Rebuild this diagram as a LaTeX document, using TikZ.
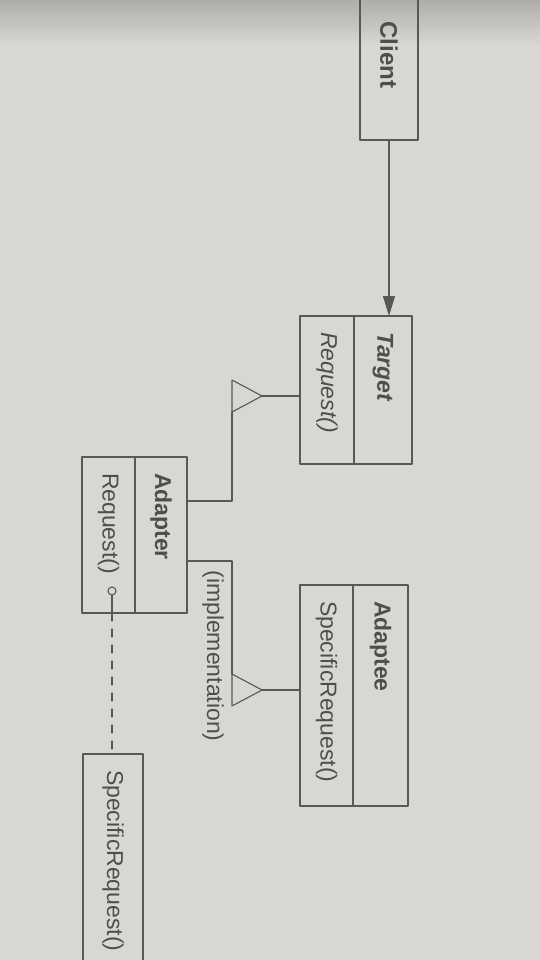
\documentclass[tikz,border=0pt]{standalone}
\usepackage{fontspec}
\setmainfont{Liberation Sans}
\usetikzlibrary{arrows.meta,calc}
\definecolor{paper}{RGB}{217,215,212}
\definecolor{shadow}{RGB}{175,173,170}
\definecolor{ink}{RGB}{88,88,88}
\definecolor{txt}{RGB}{78,78,78}
\begin{document}
\begin{tikzpicture}[x=1pt, y=1pt, line join=round, line cap=round,
	cls/.style={draw=ink, line width=1.1pt, rotate=-90, align=left, inner xsep=16pt, outer sep=0pt, text=txt, font=\fontsize{23}{27}\selectfont},
	line/.style={draw=ink, line width=1.1pt},
	gen/.style={draw=ink, line width=1.1pt, fill=paper}]
	\useasboundingbox (0,0) rectangle (540,-960);
	\fill[paper] (0,0) rectangle (540,-960);
	\shade[top color=shadow, bottom color=paper] (0,0) rectangle (540,-45);
	\node[cls, align=center, text width=138pt, minimum height=58pt, font=\fontsize{24}{28}\selectfont\bfseries] (client) at (389,-55) {Client};
	\node[cls, text width=116pt, minimum height=58pt, font=\fontsize{23}{27}\selectfont\bfseries\itshape] (tgtname) at (383,-390) {Target};
	\node[cls, text width=116pt, minimum height=54pt, font=\fontsize{23}{27}\selectfont\itshape] (tgtmeth) at (327,-390) {Request()};
	\node[cls, text width=124pt, minimum height=52pt, font=\fontsize{23}{27}\selectfont\bfseries] (adpname) at (161,-535) {Adapter};
	\node[cls, text width=124pt, minimum height=53pt] (adpmeth) at (108.5,-535) {Request()};
	\node[cls, text width=189pt, minimum height=55pt, font=\fontsize{23}{27}\selectfont\bfseries] (adename) at (380.5,-695.5) {Adaptee};
	\node[cls, text width=189pt, minimum height=53pt] (ademeth) at (326.5,-695.5) {SpecificRequest()};
	\node[cls, text width=189pt, minimum height=60pt] (note) at (113,-864.5) {SpecificRequest()};
	\node[circle, draw=ink, line width=1.1pt, inner sep=0pt, minimum size=8pt] (pin) at (112,-591) {};
	\node[rotate=-90, text=txt, font=\fontsize{23}{27}\selectfont] (impl) at (213,-656) {(implementation)};
	\coordinate (tipA) at ([xshift=-38pt,yshift=-6pt]tgtmeth.south);
	\coordinate (tipB) at ([xshift=-38pt,yshift=5.5pt]ademeth.south);
	\draw[line, -{Triangle[length=20pt,width=12pt]}, ink] (client.east) -- (client.east |- tgtname.west);
	\draw[line] ([yshift=34pt]adpname.north) -| ([xshift=-30pt,yshift=-16pt]tipA);
	\draw[line] ([yshift=-26pt]adpname.north) -| ([xshift=-30pt,yshift=16pt]tipB);
	\draw[line] (tipA) -- (tipA -| tgtmeth.south);
	\draw[line] (tipB) -- (tipB -| ademeth.south);
	\draw[gen] (tipA) -- ++(-30,16) -- ++(0,-32) -- cycle;
	\draw[gen] (tipB) -- ++(-30,16) -- ++(0,-32) -- cycle;
	\draw[line] (pin) -- (pin |- adpmeth.east);
	\draw[line, dash pattern=on 8pt off 8pt] (pin |- adpmeth.east) -- (pin |- note.west);
\end{tikzpicture}
\end{document}
